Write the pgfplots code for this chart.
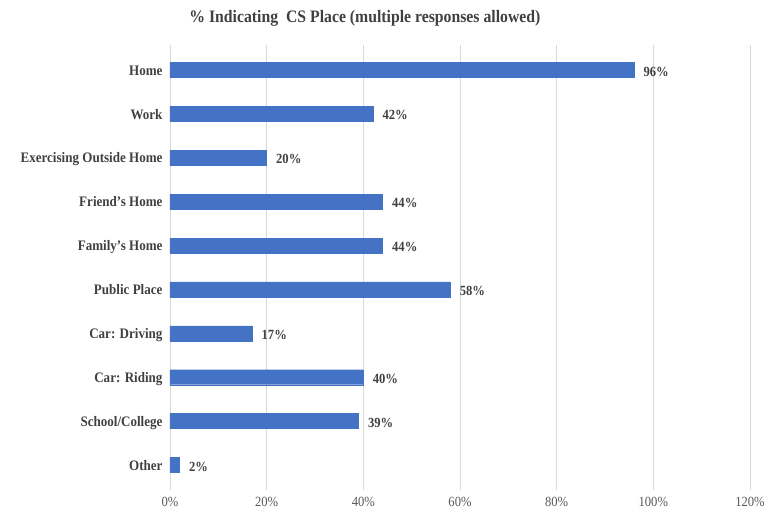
\documentclass[border=0pt]{standalone}
\usepackage{fontspec}
\setmainfont{Liberation Serif}[FakeStretch=0.9]
\usepackage{pgfplots}
\pgfplotsset{compat=1.18}
\definecolor{barblue}{HTML}{4472C4}
\definecolor{gridgray}{HTML}{D9D9D9}
\definecolor{labgray}{HTML}{404040}
\definecolor{tickgray}{HTML}{595959}
\begin{document}
\begin{tikzpicture}
\begin{axis}[
  at={(0,0)}, anchor=south west,
  scale only axis,
  width=580bp, height=445bp,
  xbar, bar width=15bp,
  xmin=0, xmax=120,
  ymin=-0.57, ymax=9.57,
  y dir=reverse,
  xtick={0,20,...,120},
  xticklabel={\pgfmathprintnumber{\tick}\%},
  /pgf/number format/assume math mode=true,
  ytick={0,...,9},
  yticklabels={Home,Work,Exercising Outside Home,Friend's Home,Family's Home,Public Place,Car: Driving,Car: Riding,School/College,Other},
  typeset ticklabels with strut,
  xmajorgrids, grid style={gridgray, line width=0.8bp},
  major tick length=0pt,
  axis line style={draw=none},
  xticklabel style={font=\fontsize{14bp}{16bp}\selectfont, text=tickgray, yshift=-4bp},
  yticklabel style={font=\fontsize{14.5bp}{16bp}\selectfont\bfseries, text=labgray, xshift=-4bp, yshift=-2bp},
  title={\% Indicating\ \ CS Place (multiple responses allowed)},
  title style={font=\fontsize{17.5bp}{20bp}\selectfont\bfseries, text=labgray, at={(axis description cs:0.336,1)}, anchor=base, yshift=17bp},
  nodes near coords={\pgfmathprintnumber{\pgfplotspointmeta}\%},
  nodes near coords style={font=\fontsize{14bp}{16bp}\selectfont\bfseries, text=labgray, anchor=west, xshift=6bp, yshift=-1.5bp},
  point meta=x,
]
\addplot[fill=barblue, draw=barblue] coordinates {
 (96,0) (42,1) (20,2) (44,3) (44,4) (58,5) (17,6) (40,7) (39,8) (2,9)
};
\end{axis}
\path[use as bounding box] (-170bp,-26bp) rectangle (600bp,490bp);
\end{tikzpicture}
\end{document}
